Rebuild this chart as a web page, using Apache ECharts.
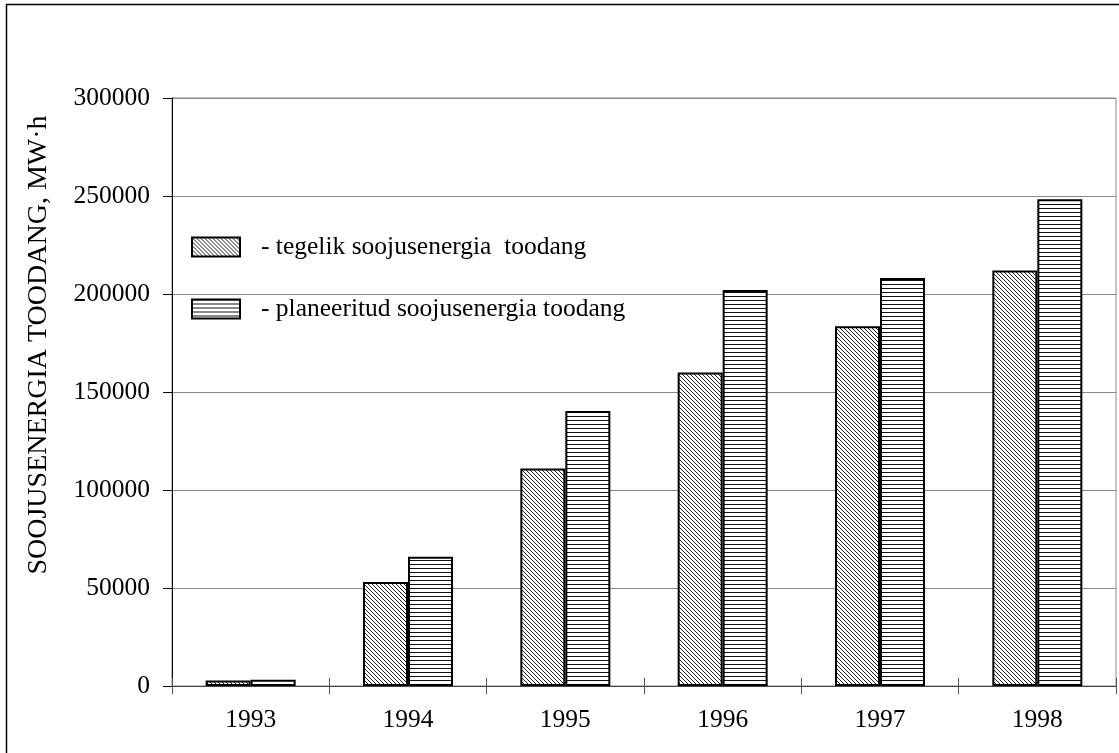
<!DOCTYPE html>
<html>
<head>
<meta charset="utf-8">
<script src="https://cdn.jsdelivr.net/npm/echarts@6/dist/echarts.min.js"></script>
<style>
  html, body { margin: 0; padding: 0; background: #fff; }
  #main { width: 1119px; height: 753px; }
</style>
</head>
<body>
<div id="main"></div>
<script>
var years = ['1993', '1994', '1995', '1996', '1997', '1998'];
var tegelik = [2800, 53000, 111000, 160000, 183500, 212000];
var planeeritud = [3200, 66000, 140300, 202000, 208200, 248300];
var seriesNames = ['tegelik soojusenergia  toodang', 'planeeritud soojusenergia toodang'];
var yTicks = [0, 50000, 100000, 150000, 200000, 250000, 300000];

var font = 'Liberation Serif, Times New Roman, serif';

// hatch patterns for the bars
function diagPattern() {
  var c = document.createElement('canvas');
  c.width = 4; c.height = 4;
  var ctx = c.getContext('2d');
  ctx.fillStyle = '#fff';
  ctx.fillRect(0, 0, 4, 4);
  ctx.fillStyle = '#222';
  for (var i = 0; i < 4; i++) ctx.fillRect(i, i, 1, 1);
  return c;
}
function horizPattern() {
  var c = document.createElement('canvas');
  c.width = 4; c.height = 4;
  var ctx = c.getContext('2d');
  ctx.fillStyle = '#fff';
  ctx.fillRect(0, 0, 4, 4);
  ctx.fillStyle = '#111';
  ctx.fillRect(0, 0, 4, 1);
  return c;
}

var gridPos = { left: 172, right: 3, top: 98, bottom: 67 };

var chart = echarts.init(document.getElementById('main'));
var option = {
  backgroundColor: '#fff',
  animation: false,
  textStyle: { fontFamily: font, color: '#000' },
  graphic: [{
    type: 'rect',
    shape: { x: 6.5, y: 4.5, width: 1200, height: 800 },
    style: { fill: 'none', stroke: '#000', lineWidth: 1.5 },
    silent: true
  }],
  grid: [
    Object.assign({ show: true, borderColor: '#888', borderWidth: 1 }, gridPos),
    Object.assign({ show: false }, gridPos)
  ],
  legend: {
    orient: 'vertical',
    left: 191, top: 234,
    padding: 0,
    icon: 'rect',
    itemWidth: 48, itemHeight: 19,
    itemGap: 36,
    data: seriesNames,
    formatter: function (n) { return '- ' + n; },
    textStyle: { fontFamily: font, fontSize: 25.5, color: '#000', padding: [0, 0, 0, 16] }
  },
  xAxis: [{
    type: 'category',
    data: years,
    gridIndex: 0,
    position: 'bottom',
    axisLine: { lineStyle: { color: '#444', width: 1 } },
    axisTick: { show: true, length: 8, lineStyle: { color: '#555' } },
    axisLabel: { fontFamily: font, fontSize: 25.5, color: '#000', margin: 21 }
  }, {
    // second axis only to draw the upper half of the crossing ticks
    type: 'category',
    data: years,
    gridIndex: 1,
    position: 'bottom',
    axisLine: { show: false },
    axisTick: { show: true, inside: true, length: 8, lineStyle: { color: '#555' } },
    axisLabel: { show: false }
  }],
  yAxis: [{
    type: 'value',
    gridIndex: 0,
    min: 0, max: 300000, interval: 50000,
    name: 'SOOJUSENERGIA TOODANG, MW·h',
    nameLocation: 'middle',
    nameGap: 119,
    nameTextStyle: { fontFamily: font, fontSize: 28, color: '#000', padding: [0, 0, 0, 94] },
    axisLine: { show: true, lineStyle: { color: '#000', width: 1 } },
    axisTick: { show: true, length: 9, lineStyle: { color: '#000' } },
    axisLabel: {
      fontFamily: font, fontSize: 25.5, color: '#000', margin: 22,
      formatter: function (v) { return yTicks.indexOf(v) >= 0 ? String(v) : ''; }
    },
    splitLine: { show: true, lineStyle: { color: '#888', width: 1 } }
  }, {
    type: 'value',
    gridIndex: 1,
    min: 0, max: 300000, interval: 50000,
    show: false
  }],
  series: [{
    name: seriesNames[0],
    type: 'bar',
    data: tegelik,
    barWidth: 45,
    barGap: '0%',
    itemStyle: {
      color: { image: diagPattern(), repeat: 'repeat' },
      borderColor: '#000', borderWidth: 2
    }
  }, {
    name: seriesNames[1],
    type: 'bar',
    data: planeeritud,
    barWidth: 45,
    barGap: '0%',
    itemStyle: {
      color: { image: horizPattern(), repeat: 'repeat' },
      borderColor: '#000', borderWidth: 2
    }
  }]
};
chart.setOption(option);
</script>
</body>
</html>
